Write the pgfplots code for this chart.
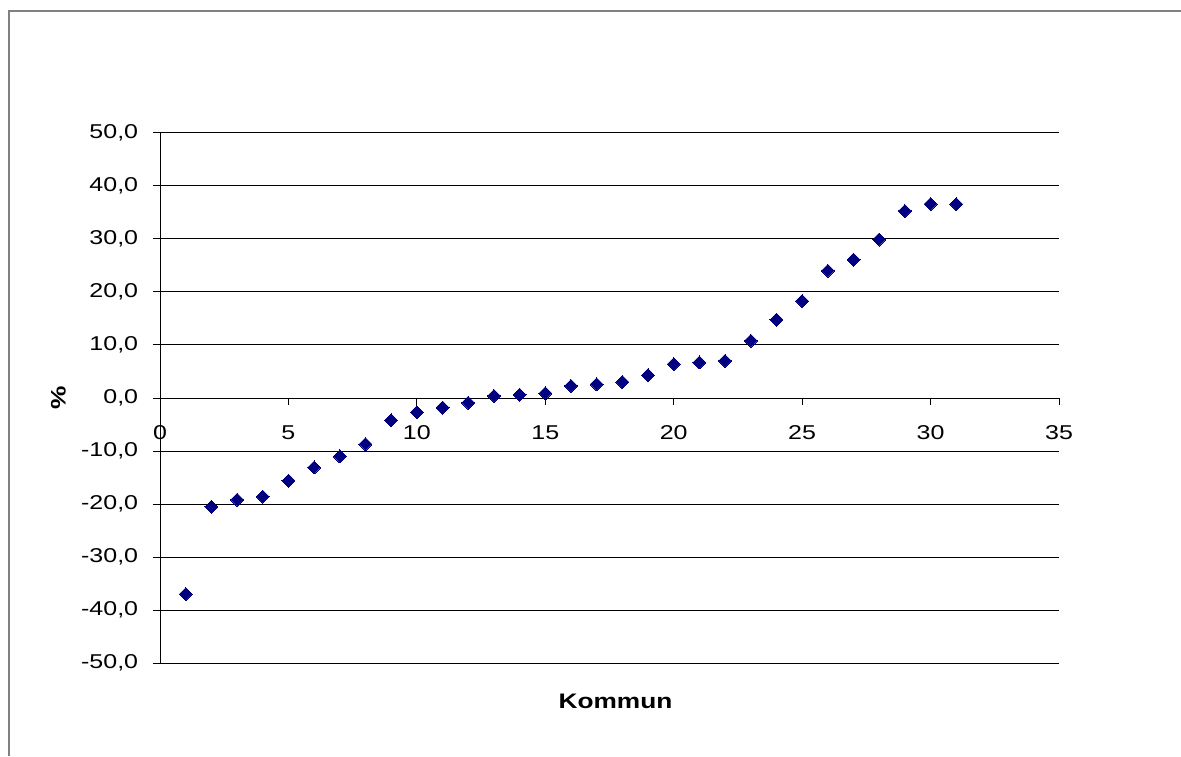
\documentclass[border=0pt]{standalone}
\usepackage{fontspec}
\setmainfont{Liberation Sans}[FakeStretch=1.25]
\usepackage{pgfplots}
\pgfplotsset{compat=1.18}
\definecolor{navyblue}{RGB}{0,0,128}
\definecolor{framegray}{RGB}{128,128,128}
\begin{document}
\fontsize{20}{24}\selectfont
\begin{tikzpicture}
\path[use as bounding box] (0pt,0pt) rectangle (1181pt,756pt);
\draw[framegray, line width=2pt] (9pt,0pt) -- (9pt,745pt) -- (1181pt,745pt);
\begin{axis}[
  at={(160pt,93pt)}, anchor=south west,
  scale only axis, width=899pt, height=530pt,
  xmin=0, xmax=35, ymin=-50, ymax=50,
  axis y line=left, axis x line=middle,
  axis line style={-, line width=1pt, black},
  hide obscured x ticks=false, hide obscured y ticks=false,
  xtick={0,5,10,15,20,25,30,35},
  xticklabels={0,5,10,15,20,25,30,35},
  ytick={-50,-40,-30,-20,-10,0,10,20,30,40,50},
  yticklabels={{-50,0},{-40,0},{-30,0},{-20,0},{-10,0},{0,0},{10,0},{20,0},{30,0},{40,0},{50,0}},
  tick align=outside,
  major tick length=7pt,
  tick style={line width=1pt, black},
  ymajorgrids, grid style={line width=1pt, black},
  tick label style={font=\fontsize{20}{24}\selectfont},
  xticklabel style={anchor=north, yshift=-14pt},
  yticklabel style={anchor=east, xshift=-8pt},
  xlabel={\textbf{Kommun}},
  ylabel={\textbf{\%}},
  xlabel style={at={(axis description cs:0.5067,-0.0717)}, anchor=center, font=\fontsize{21}{25}\selectfont},
  ylabel style={at={(axis description cs:-0.113,0.5)}, anchor=center, rotate=0, font=\fontsize{21}{25}\selectfont},
  clip=false,
]
\addplot[only marks, mark=square*, mark size=4.6pt, mark options={rotate=45, fill=navyblue, draw=navyblue, line width=0pt}] coordinates {
(1,-37.0) (2,-20.5) (3,-19.2) (4,-18.6) (5,-15.6) (6,-13.1) (7,-11.0) (8,-8.7)
(9,-4.2) (10,-2.7) (11,-1.8) (12,-0.9) (13,0.4) (14,0.6) (15,0.9) (16,2.3)
(17,2.6) (18,3.0) (19,4.3) (20,6.4) (21,6.7) (22,7.0) (23,10.8) (24,14.8)
(25,18.3) (26,24.0) (27,26.1) (28,29.9) (29,35.3) (30,36.6) (31,36.6)
};
\end{axis}
\end{tikzpicture}
\end{document}
